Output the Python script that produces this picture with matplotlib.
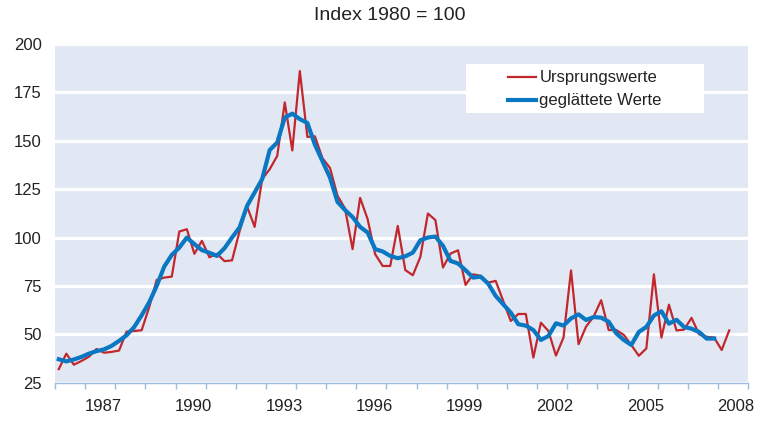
import numpy as np
import matplotlib
matplotlib.use("Agg")
import matplotlib.pyplot as plt
import matplotlib.transforms as mtransforms
from matplotlib.patches import Rectangle

plt.rcParams['font.family'] = ['Liberation Sans', 'DejaVu Sans']

# ---- data (quarterly, starting 1986 Q1) ----
start_year = 1986
ursprungswerte = [
    32.0, 40.0, 34.3, 36.2, 38.4, 42.4, 40.5, 40.9, 41.6, 51.4,
    51.7, 52.1, 64.0, 78.1, 79.3, 79.8, 103.1, 104.3, 91.6, 98.3,
    89.8, 91.6, 87.8, 88.2, 103.3, 116.0, 105.5, 130.2, 135.3, 142.2,
    169.8, 145.0, 186.0, 152.0, 152.3, 141.0, 136.0, 121.6, 115.0, 94.0,
    120.5, 109.5, 91.4, 85.3, 85.3, 106.0, 83.2, 80.5, 90.0, 112.4,
    109.0, 84.5, 91.7, 93.4, 75.5, 81.0, 80.2, 76.7, 77.6, 67.2,
    56.9, 60.5, 60.5, 38.0, 56.0, 51.7, 39.0, 48.3, 83.0, 44.9,
    54.0, 59.1, 67.6, 52.2, 52.2, 49.7, 44.5, 38.9, 42.7, 81.0,
    48.3, 65.3, 52.0, 52.4, 58.5, 50.0, 48.7, 48.3, 41.9, 52.0,
]
geglaettet = [
    37.1, 36.0, 37.0, 38.3, 40.0, 41.3, 42.2, 44.0, 46.6, 49.5,
    53.7, 59.8, 66.5, 75.0, 85.0, 91.0, 94.8, 100.0, 96.6, 93.5,
    92.1, 90.5, 94.5, 100.0, 105.2, 116.4, 123.3, 130.2, 145.2, 149.1,
    162.0, 164.0, 161.2, 159.2, 148.0, 139.5, 131.0, 118.4, 114.2, 110.6,
    105.5, 102.6, 94.0, 92.8, 90.5, 89.3, 90.3, 92.2, 98.6, 100.0,
    100.5, 95.7, 87.9, 86.6, 83.1, 79.3, 79.8, 76.2, 69.8, 65.5,
    61.2, 55.2, 54.5, 52.2, 47.1, 49.1, 55.7, 54.5, 58.2, 60.3,
    57.4, 58.9, 58.6, 56.5, 50.5, 47.1, 44.5, 51.2, 53.8, 59.7,
    61.9, 55.5, 57.5, 53.8, 52.9, 51.2, 47.8, 47.8,
]
labeled_years = [1987, 1990, 1993, 1996, 1999, 2002, 2005, 2008]
y_ticks = [25, 50, 75, 100, 125, 150, 175, 200]
series_names = ["Ursprungswerte", "geglättete Werte"]
title_text = "Index 1980 = 100"

t_orig = start_year + 0.125 + 0.25 * np.arange(len(ursprungswerte))
t_smooth = start_year + 0.125 + 0.25 * np.arange(len(geglaettet))

fig = plt.figure(figsize=(7.63, 4.21), dpi=100)
ax = fig.add_axes([0.0721, 0.091, 0.9083, 0.8045])
ax.set_facecolor('#e1e8f3')

ax.plot(t_orig, ursprungswerte, color='#c1272d', lw=1.6, label=series_names[0], zorder=3)
ax.plot(t_smooth, geglaettet, color='#0a77c2', lw=3.0, label=series_names[1], zorder=4,
        solid_joinstyle='round')

ax.set_xlim(1986, 2009)
ax.set_ylim(25, 200)

ax.set_yticks(y_ticks)
ax.yaxis.grid(True, color='white', lw=2.3)
ax.set_axisbelow(True)
ax.tick_params(axis='y', length=0, pad=9.5, labelsize=12, labelcolor='#222222')

ax.set_xticks(np.arange(1986, 2010))
ax.set_xticklabels([])
ax.tick_params(axis='x', which='major', direction='out', length=4, width=1, color='#9dbbe0')
ax.set_xticks([y + 0.5 for y in labeled_years], minor=True)
ax.set_xticklabels([str(y) for y in labeled_years], minor=True)
ax.tick_params(axis='x', which='minor', length=0, pad=11.5, labelsize=12, labelcolor='#222222')
shift = mtransforms.ScaledTranslation(3 / 100, 0, fig.dpi_scale_trans)
for lbl in ax.xaxis.get_minorticklabels():
    lbl.set_transform(lbl.get_transform() + shift)

for s in ['left', 'right', 'top']:
    ax.spines[s].set_visible(False)
ax.spines['bottom'].set_color('#9dbbe0')
ax.spines['bottom'].set_linewidth(1)

# legend with white box
ax.add_patch(Rectangle((0.593, 0.796), 0.3435, 0.145, transform=ax.transAxes,
                       facecolor='white', edgecolor='none', zorder=5))
leg = ax.legend(loc='center', bbox_to_anchor=(0.765, 0.866), frameon=False,
                fontsize=12, handlelength=1.68, handletextpad=0.18,
                labelspacing=0.48, borderpad=0)
leg.set_zorder(6)
for txt in leg.get_texts():
    txt.set_color('#222222')

fig.text(0.511, 0.962, title_text, ha='center', va='center', fontsize=14, color='#222222')

fig.savefig('out.png', dpi=100)
